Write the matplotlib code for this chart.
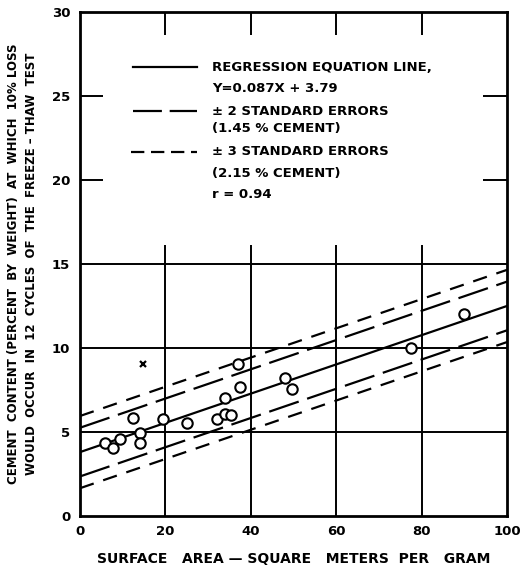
import numpy as np
import matplotlib
matplotlib.use("Agg")
import matplotlib.pyplot as plt

# test points
surface_area = [5.9, 7.7, 9.4, 12.4, 14.1, 14.1, 19.4, 25.0, 32.0, 34.0, 33.9,
                35.4, 36.9, 37.5, 48.1, 49.6, 77.5, 90.0]
cement = [4.31, 4.01, 4.55, 5.80, 4.90, 4.31, 5.76, 5.50, 5.74, 6.99, 6.05,
          5.99, 9.03, 7.68, 8.18, 7.52, 9.96, 12.0]
outlier_x = [14.8]
outlier_y = [9.03]

slope = 0.087
intercept = 3.79
se2 = 1.45
se3 = 2.15

plt.rcParams['font.family'] = ['DejaVu Sans']
plt.rcParams['font.weight'] = 'bold'

fig = plt.figure(figsize=(5.21, 5.68), dpi=100)
ax = fig.add_axes([0.1536, 0.092, 0.8194, 0.887])

ax.set_xlim(0, 100)
ax.set_ylim(0, 30)

# grid (full in the lower part, stubs above)
gc = dict(color='black', lw=1.4, zorder=1)
ax.hlines([5, 10, 15], 0, 100, **gc)
ax.vlines([20, 40, 60, 80], 0, 15, **gc)
ax.vlines([20, 40, 60, 80], 15, 16.1, **gc)
ax.vlines([20, 40, 60, 80], 28.6, 30, **gc)
ax.hlines([20, 25], 0, 5.4, **gc)
ax.hlines([20, 25], 94.5, 100, **gc)

xs = np.array([0, 100])
reg = slope * xs + intercept
ax.plot(xs, reg, color='black', lw=1.6, zorder=2)
for off in (se2, -se2):
    ax.plot(xs, reg + off, color='black', lw=1.6, dashes=(14, 4), zorder=2)
for off in (se3, -se3):
    ax.plot(xs, reg + off, color='black', lw=1.6, dashes=(6.5, 4.5), zorder=2)

ax.plot(surface_area, cement, 'o', ms=7.5, mfc='white', mec='black', mew=1.5,
        zorder=3)
ax.plot(outlier_x, outlier_y, 'x', ms=4.5, mec='black', mew=1.6, zorder=3)

# legend drawn by hand
fs = 9.5
ax.plot([12.5, 27.5], [26.7, 26.7], color='black', lw=1.6, zorder=2)
ax.plot([12.5, 27.5], [24.1, 24.1], color='black', lw=1.6, dashes=(13, 3.5))
ax.plot([12.0, 27.5], [21.67, 21.67], color='black', lw=1.6, dashes=(6, 3))
ax.text(31, 26.7, "REGRESSION EQUATION LINE,", fontsize=fs, va='center')
ax.text(31, 25.45, "Y=0.087X + 3.79", fontsize=fs, va='center')
ax.text(31, 24.1, "\u00b1 2 STANDARD ERRORS", fontsize=fs, va='center')
ax.text(31, 23.05, "(1.45 % CEMENT)", fontsize=fs, va='center')
ax.text(31, 21.67, "\u00b1 3 STANDARD ERRORS", fontsize=fs, va='center')
ax.text(31, 20.4, "(2.15 % CEMENT)", fontsize=fs, va='center')
ax.text(31, 19.1, "r = 0.94", fontsize=fs, va='center')

ax.set_xticks([0, 20, 40, 60, 80, 100])
ax.set_yticks([0, 5, 10, 15, 20, 25, 30])
ax.tick_params(length=0, labelsize=9.5, pad=7)
for lab in ax.get_xticklabels() + ax.get_yticklabels():
    lab.set_fontweight('bold')

for s in ax.spines.values():
    s.set_linewidth(2)

ax.set_xlabel("SURFACE   AREA \u2014 SQUARE   METERS  PER   GRAM", fontsize=10,
              fontweight='bold', labelpad=10)
ax.set_ylabel("CEMENT  CONTENT (PERCENT  BY  WEIGHT)  AT  WHICH  10% LOSS\n"
              "WOULD  OCCUR  IN  12  CYCLES  OF  THE  FREEZE \u2013 THAW  TEST",
              fontsize=8.5, fontweight='bold', labelpad=10, linespacing=1.5)

fig.savefig("out.png", dpi=100)
